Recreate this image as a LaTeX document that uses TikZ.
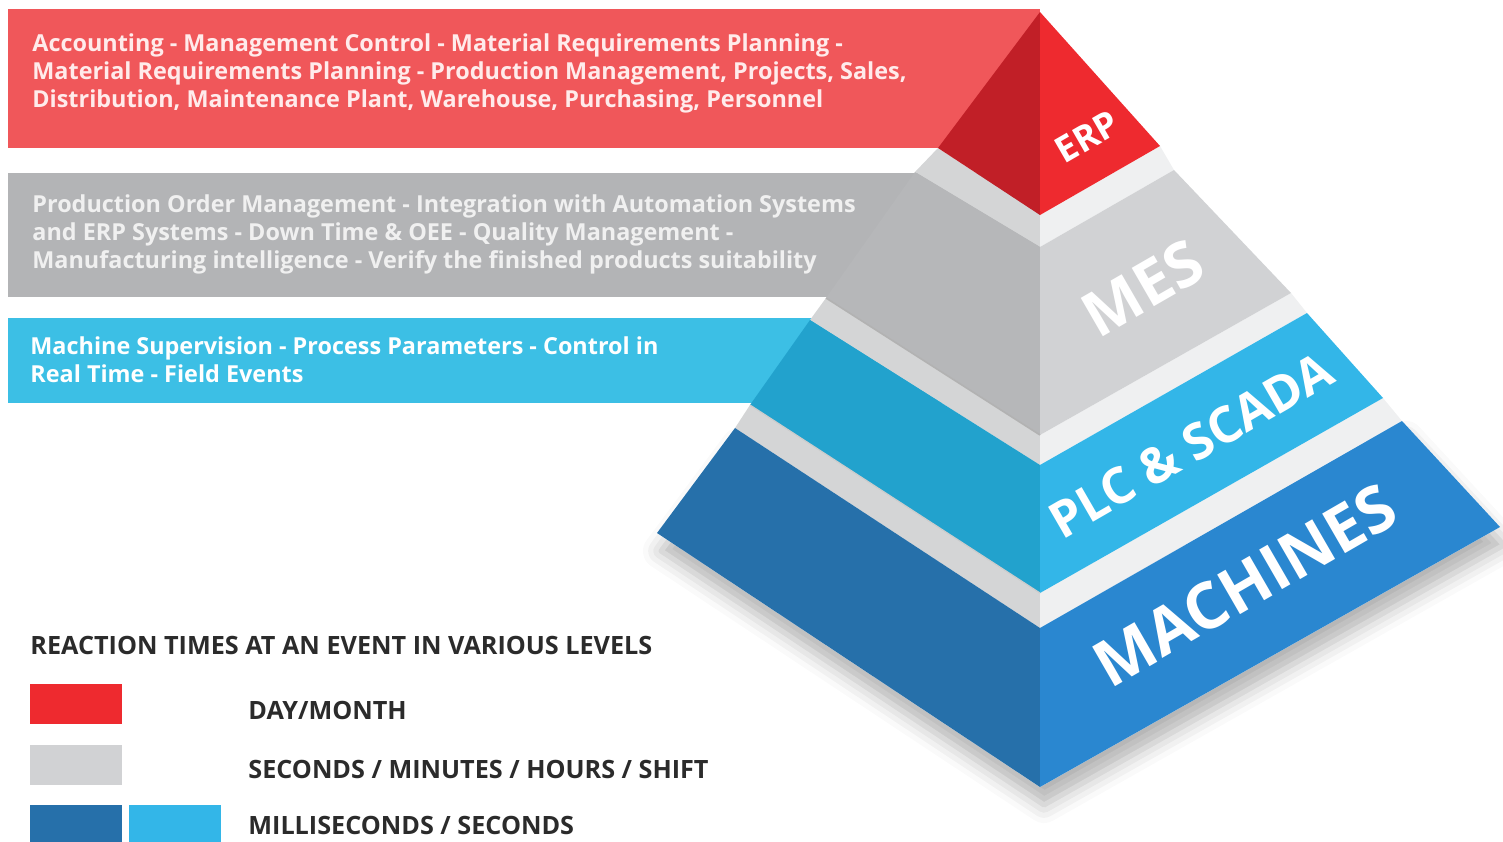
\documentclass[tikz,border=0pt]{standalone}
\usepackage{fontspec}
\setmainfont{Open Sans}
\usetikzlibrary{positioning, shadows.blur}

\definecolor{erpBanner}{HTML}{F0575A}
\definecolor{erpDark}{HTML}{C11F27}
\definecolor{erpLight}{HTML}{EE2A2F}
\definecolor{mesBanner}{HTML}{B3B4B6}
\definecolor{mesDark}{HTML}{B6B7B9}
\definecolor{mesLight}{HTML}{D1D2D4}
\definecolor{plcBanner}{HTML}{3CBFE5}
\definecolor{plcDark}{HTML}{22A2CD}
\definecolor{plcLight}{HTML}{33B6E8}
\definecolor{macDark}{HTML}{2670AA}
\definecolor{macLight}{HTML}{2A87D0}
\definecolor{ledgeDark}{HTML}{D4D5D6}
\definecolor{ledgeLight}{HTML}{EFF0F1}
\definecolor{legendInk}{HTML}{2B2B2B}

\begin{document}
\begin{tikzpicture}[x=0.5pt, y=-0.5pt,
    bannertext/.style={anchor=west, align=left, inner sep=0pt, text=white,
        font=\bfseries\fontsize{11.7}{14}\selectfont},
    layerlabel/.style={text=white, rotate=30, inner sep=0pt},
    swatch/.style={minimum width=46pt, minimum height=20pt, inner sep=0pt, anchor=north west},
    legendtext/.style={anchor=west, inner sep=0pt, text=legendInk,
        font=\bfseries\fontsize{12.6}{14}\selectfont}]
    \useasboundingbox (0,0) rectangle (1503,841);

    % Pyramid corners
    \coordinate (apex) at (1040,12);
    % ERP bottom
    \coordinate (eL) at (938,148);  \coordinate (eC) at (1040,215);  \coordinate (eR) at (1160,146);
    % MES top / bottom
    \coordinate (mtL) at (915,172); \coordinate (mtC) at (1040,247); \coordinate (mtR) at (1174,170);
    \coordinate (mbL) at (826,298); \coordinate (mbC) at (1040,435); \coordinate (mbR) at (1291,293);
    % PLC top / bottom
    \coordinate (ptL) at (810,320); \coordinate (ptC) at (1040,465); \coordinate (ptR) at (1307,313);
    \coordinate (pbL) at (750,405); \coordinate (pbC) at (1040,593); \coordinate (pbR) at (1383,398);
    % MACHINES top / bottom
    \coordinate (ktL) at (735,428); \coordinate (ktC) at (1040,628); \coordinate (ktR) at (1402,421);
    \coordinate (kbL) at (657,533); \coordinate (kbC) at (1040,787); \coordinate (kbR) at (1500,527);

    % Shadow under the base
    \fill[white, blur shadow={shadow xshift=2pt, shadow yshift=-9pt, shadow blur radius=9pt, shadow opacity=30}]
        (ktL) -- (kbL) -- (kbC) -- (kbR) -- (ktR) -- (ktC) -- cycle;

    % Banners
    \fill[erpBanner] (8,9) rectangle (1040,148);
    \fill[mesBanner] (8,173) rectangle (1040,297);
    \fill[plcBanner] (8,318) rectangle (1040,403);

    % Ledges between the layers
    \fill[ledgeDark]  (eL) -- (eC) -- (mtC) -- (mtL) -- cycle;
    \fill[ledgeLight] (eC) -- (eR) -- (mtR) -- (mtC) -- cycle;
    \fill[ledgeDark]  (mbL) -- (mbC) -- (ptC) -- (ptL) -- cycle;
    \fill[ledgeLight] (mbC) -- (mbR) -- (ptR) -- (ptC) -- cycle;
    \fill[ledgeDark]  (pbL) -- (pbC) -- (ktC) -- (ktL) -- cycle;
    \fill[ledgeLight] (pbC) -- (pbR) -- (ktR) -- (ktC) -- cycle;

    % Layer faces
    \fill[erpDark]  (apex) -- (eL) -- (eC) -- cycle;
    \fill[erpLight] (apex) -- (eC) -- (eR) -- cycle;
    \fill[mesDark]  (mtL) -- (mbL) -- (mbC) -- (mtC) -- cycle;
    \fill[mesLight] (mtC) -- (mbC) -- (mbR) -- (mtR) -- cycle;
    \fill[plcDark]  (ptL) -- (pbL) -- (pbC) -- (ptC) -- cycle;
    \fill[plcLight] (ptC) -- (pbC) -- (pbR) -- (ptR) -- cycle;
    \fill[macDark]  (ktL) -- (kbL) -- (kbC) -- (ktC) -- cycle;
    \fill[macLight] (ktC) -- (kbC) -- (kbR) -- (ktR) -- cycle;
    \draw[black!30, line width=0.8pt] (mbL) -- (mbC);
    \draw[black!20, line width=0.6pt] (pbL) -- (pbC);

    % Banner texts
    \node[bannertext, text=white!92!red] (erpText) at (32,73)
        {Accounting - Management Control - Material Requirements Planning -\\
         Material Requirements Planning - Production Management, Projects, Sales,\\
         Distribution, Maintenance Plant, Warehouse, Purchasing, Personnel};
    \node[bannertext, text=white!94!black] (mesText) at (32,234)
        {Production Order Management - Integration with Automation Systems\\
         and ERP Systems - Down Time \& OEE - Quality Management -\\
         Manufacturing intelligence - Verify the finished products suitability};
    \node[bannertext] (plcText) at (30,360)
        {Machine Supervision - Process Parameters - Control in\\
         Real Time - Field Events};

    % Layer labels
    \node[layerlabel, font=\bfseries\fontsize{18}{18}\selectfont] (erpLabel) at (1087,137) {ERP};
    \node[layerlabel, font=\bfseries\fontsize{31}{31}\selectfont] (mesLabel) at (1143,288) {MES};
    \node[layerlabel, font=\bfseries\fontsize{25}{25}\selectfont] (plcLabel) at (1191,445) {PLC \& SCADA};
    \node[layerlabel, font=\bfseries\fontsize{32}{32}\selectfont] (macLabel) at (1245,585) {MACHINES};

    % Legend
    \node[legendtext] (legendTitle) at (30,645) {REACTION TIMES AT AN EVENT IN VARIOUS LEVELS};
    \node[swatch, fill=erpLight] (swRed) at (30,684) {};
    \node[swatch, fill=mesLight] (swGray) at (30,745) {};
    \node[swatch, fill=macDark] (swDark) at (30,805) {};
    \node[swatch, fill=plcLight, right=3pt of swDark] (swLight) {};
    \node[legendtext] (dayText) at (248,710) {DAY/MONTH};
    \node[legendtext] (shiftText) at (248,769) {SECONDS / MINUTES / HOURS / SHIFT};
    \node[legendtext] (msText) at (248,825) {MILLISECONDS / SECONDS};
\end{tikzpicture}
\end{document}
